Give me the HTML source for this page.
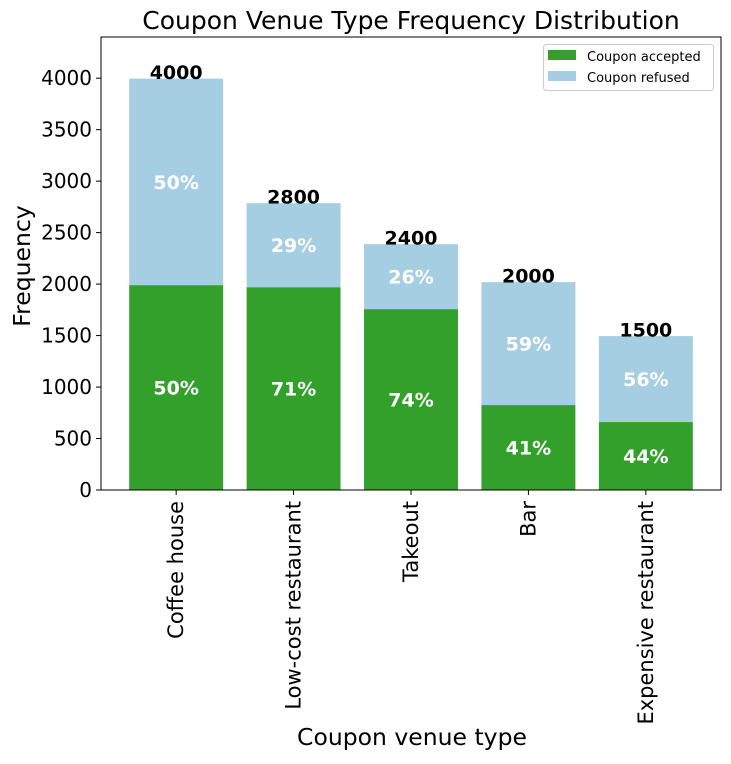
<!DOCTYPE html>
<html><head><meta charset="utf-8"><style>
body{margin:0;background:#fff;font-family:"DejaVu Sans","Liberation Sans",sans-serif}
svg text{font-family:"DejaVu Sans","Liberation Sans",sans-serif}
</style></head><body>
<svg id="c" width="731" height="760" xmlns="http://www.w3.org/2000/svg"></svg>
<script>
const categories=["Coffee house","Low-cost restaurant","Takeout","Bar","Expensive restaurant"];
const accepted=[1990,1970,1757,825,660];
const totals=[3996,2786,2388,2019,1495];
const yTicks=[0,500,1000,1500,2000,2500,3000,3500,4000];
const svg=document.getElementById('c');
const NS='http://www.w3.org/2000/svg';
const L=101,R=721,T=37,B=490,yMax=4400,xMin=-0.64,xMax=4.64;
const y=v=>B-(v/yMax)*(B-T);
const x=i=>L+(i-xMin)/(xMax-xMin)*(R-L);
const bw=0.8*(R-L)/(xMax-xMin);
function mk(tag,attrs,txt){const e=document.createElementNS(NS,tag);for(const k in attrs)e.setAttribute(k,attrs[k]);if(txt!==undefined)e.textContent=txt;svg.appendChild(e);return e;}
let e=mk('text',{x:411,y:29,'text-anchor':'middle','font-size':25},'Coupon Venue Type Frequency Distribution');


categories.forEach((c,i)=>{
  const cx=x(i),ref=totals[i]-accepted[i];
  let a=mk('rect',{x:cx-bw/2,y:y(accepted[i]),width:bw,height:B-y(accepted[i]),fill:'#33a02c'});
  
  
  let r=mk('rect',{x:cx-bw/2,y:y(totals[i]),width:bw,height:y(accepted[i])-y(totals[i]),fill:'#a6cee3'});
  
  
  let p1=mk('text',{x:cx,y:y(accepted[i]/2)+7,'text-anchor':'middle','font-size':19,'font-weight':'bold',fill:'#fff'},Math.round(accepted[i]/totals[i]*100)+'%');
  
  
  let p2=mk('text',{x:cx,y:y(accepted[i]+ref/2)+7,'text-anchor':'middle','font-size':19,'font-weight':'bold',fill:'#fff'},Math.round(ref/totals[i]*100)+'%');
  
  
  let t=mk('text',{x:cx,y:y(totals[i])+0.5,'text-anchor':'middle','font-size':19,'font-weight':'bold',fill:'#000'},String(Math.round(totals[i]/100)*100));
  
  
  mk('line',{x1:cx,x2:cx,y1:B,y2:B+5,stroke:'#000'});
  let xl=mk('text',{transform:`translate(${cx+7},${B+11}) rotate(-90)`,'text-anchor':'end','font-size':21},c);
  
  
});
yTicks.forEach(v=>{
  mk('line',{x1:L-5,x2:L,y1:y(v),y2:y(v),stroke:'#000'});
  let t=mk('text',{x:L-9,y:y(v)+7,'text-anchor':'end','font-size':20},String(v));
  
  
});
let ax=mk('rect',{x:L,y:T,width:R-L,height:B-T,fill:'none',stroke:'#000','stroke-width':1});


let yl=mk('text',{transform:'translate(30,266) rotate(-90)','text-anchor':'middle','font-size':23.5},'Frequency');


let xt=mk('text',{x:412,y:745,'text-anchor':'middle','font-size':23.5},'Coupon venue type');


let lg=mk('rect',{x:543.5,y:44.5,width:170,height:46,rx:3,fill:'#fff',stroke:'#ccc'});


mk('rect',{x:548,y:50,width:28,height:10,fill:'#33a02c'});
let l1=mk('text',{x:587,y:61,'font-size':13},'Coupon accepted');


mk('rect',{x:548,y:71,width:28,height:10,fill:'#a6cee3'});
let l2=mk('text',{x:587,y:82,'font-size':13},'Coupon refused');


</script>
</body></html>
